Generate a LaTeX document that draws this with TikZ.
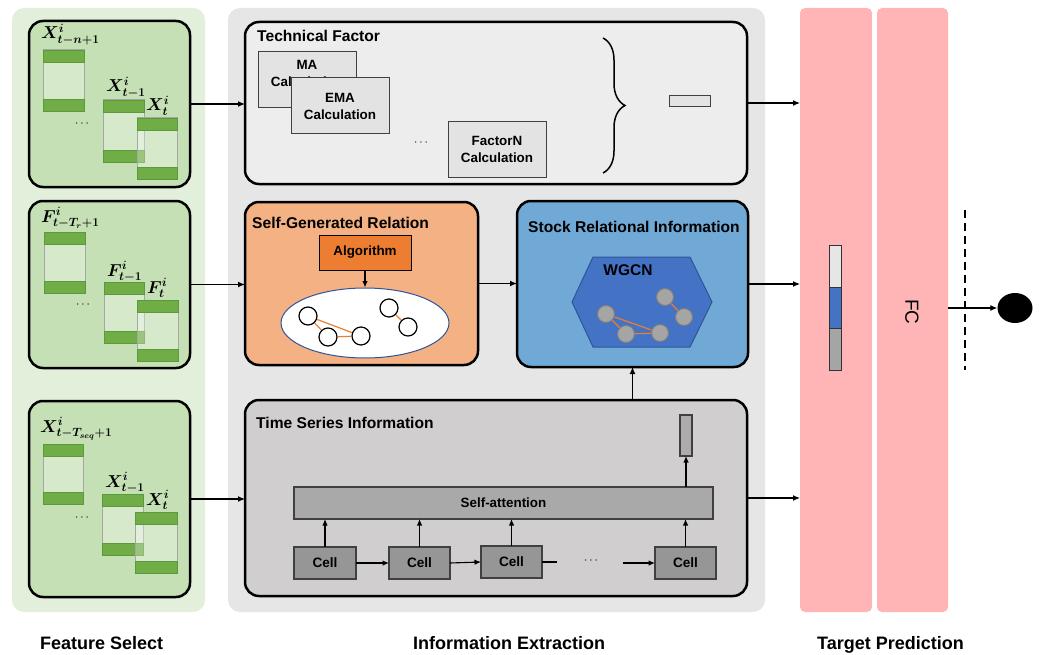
\documentclass[tikz,border=0pt]{standalone}
\usepackage{fontspec}
\setmainfont{Liberation Sans}
\usepackage{amsmath,bm}
\usetikzlibrary{arrows.meta,decorations.pathreplacing,shapes.geometric}
\definecolor{gbg}{HTML}{E2EFDA}
\definecolor{gbox}{HTML}{C5E0B4}
\definecolor{gbar}{HTML}{70AD47}
\definecolor{gbard}{HTML}{5B9A3A}
\definecolor{mbg}{HTML}{E7E6E6}
\definecolor{tfbg}{HTML}{EDEDED}
\definecolor{sgrbg}{HTML}{F4B183}
\definecolor{sribg}{HTML}{70A9D6}
\definecolor{tsibg}{HTML}{D0CECE}
\definecolor{pink}{HTML}{FFB5B5}
\definecolor{orng}{HTML}{ED7D31}
\definecolor{hexb}{HTML}{4472C4}
\definecolor{hexd}{HTML}{2F5597}
\definecolor{gnode}{HTML}{A5A5A5}
\definecolor{gnoded}{HTML}{7F7F7F}
\definecolor{calc}{HTML}{E3E3E3}
\definecolor{dgray}{HTML}{404040}
\definecolor{cellc}{HTML}{969696}
\definecolor{sac}{HTML}{A9A9A9}
\definecolor{outc}{HTML}{AFABAB}
\newcommand\bx[7]{\node[#6, minimum width={(#4)-(#2)}, minimum height={(#5)-(#3)}, inner sep=0pt, outer sep=0pt] (#1) at ({((#2)+(#4))/2},{((#3)+(#5))/2}) {#7};}
\newcommand\stk[5]{%
  \bx{#1}{#2}{#3}{#4}{#5}{stackrect}{}
  \bx{#1t}{#2}{#3}{#4}{(#3)+12}{bar}{}
  \bx{#1b}{#2}{(#5)-12}{#4}{#5}{bar}{}}
\tikzset{
  panel/.style={fill=#1, rounded corners=12pt},
  bigbox/.style={fill=#1, draw=black, line width=2.5pt, rounded corners=14pt},
  stackrect/.style={draw=black!35, line width=1pt, fill=white, fill opacity=0.3},
  bar/.style={fill=gbar, draw=gbard, line width=0.7pt},
  calcbox/.style={fill=calc, draw=dgray, line width=1pt, align=center, font=\fontsize{13.4}{17}\selectfont\bfseries},
  ttl/.style={anchor=base west, inner sep=0pt, font=\fontsize{15.6}{18}\selectfont\bfseries},
  lbl/.style={anchor=base west, inner sep=0pt, font=\fontsize{16.5}{17}\selectfont},
  dots/.style={inner sep=0pt, font=\fontsize{13}{14}\selectfont},
  bottomlbl/.style={anchor=base west, inner sep=0pt, font=\fontsize{18}{20}\selectfont\bfseries},
  arr/.style={line width=1.2pt, -{Latex[length=7pt,width=6pt]}},
  sarr/.style={line width=1.1pt, -{Latex[length=6.5pt,width=5.5pt]}},
  wnode/.style={circle, draw=black, line width=1.2pt, fill=white, minimum size=18pt, inner sep=0pt},
  gnd/.style={circle, draw=gnoded, line width=1pt, fill=gnode, minimum size=17pt, inner sep=0pt},
  oedge/.style={draw=orng, line width=1.2pt},
  cellbox/.style={fill=cellc, draw=dgray, line width=1.2pt, font=\fontsize{13.6}{16}\selectfont\bfseries},
}
\begin{document}
\begin{tikzpicture}[x=1pt,y=-1pt]
\useasboundingbox (0,0) rectangle (1040,655);
% ---------- panels
\bx{gpanel}{12}{8}{205}{612}{panel=gbg}{}
\bx{mpanel}{228}{8}{765}{612}{panel=mbg}{}
\bx{p1}{800}{8}{872}{612}{fill=pink, rounded corners=5pt}{}
\bx{p2}{877}{8}{948}{612}{fill=pink, rounded corners=5pt}{}
% ---------- left boxes
\bx{b1}{29}{21}{190}{187}{bigbox=gbox}{}
\bx{b2}{29}{201}{190}{368}{bigbox=gbox}{}
\bx{b3}{29}{401}{190}{597}{bigbox=gbox}{}
\stk{a1}{43}{50}{84}{111}
\stk{a2}{103}{100}{144}{162}
\stk{a3}{137}{118}{177}{179}
\stk{f1}{44}{232}{85}{293}
\stk{f2}{104}{282}{144}{343}
\stk{f3}{137}{300}{178}{361}
\stk{s1}{43}{444}{83}{504}
\stk{s2}{102}{494}{143}{555}
\stk{s3}{135}{512}{177}{573}
\node[lbl] (la1) at (41,39) {$\bm{X^{i}_{t-n+1}}$};
\node[lbl] (la2) at (106,92) {$\bm{X^{i}_{t-1}}$};
\node[lbl] (la3) at (146,111) {$\bm{X^{i}_{t}}$};
\node[lbl] (lf1) at (41,222) {$\bm{F^{i}_{t-T_r+1}}$};
\node[lbl] (lf2) at (107,276) {$\bm{F^{i}_{t-1}}$};
\node[lbl] (lf3) at (147,293) {$\bm{F^{i}_{t}}$};
\node[lbl] (ls1) at (40,432) {$\bm{X^{i}_{t-T_{seq}+1}}$};
\node[lbl] (ls2) at (105,487) {$\bm{X^{i}_{t-1}}$};
\node[lbl] (ls3) at (146,505) {$\bm{X^{i}_{t}}$};
\node[dots] (da) at (83,124) {$\cdots$};
\node[dots] (df) at (84,305) {$\cdots$};
\node[dots] (ds) at (83,518) {$\cdots$};
% ---------- middle boxes
\bx{tf}{245}{22}{747}{184}{bigbox=tfbg}{}
\bx{sgr}{245}{202}{478}{365}{bigbox=sgrbg}{}
\bx{sri}{517}{201}{748}{367}{bigbox=sribg}{}
\bx{tsi}{245}{400}{747}{596}{bigbox=tsibg}{}
\node[ttl] (ttf) at (257,42) {Technical Factor};
\node[ttl] (tsgr) at (252,228) {Self-Generated Relation};
\node[ttl] (tsri) at (528,232) {Stock Relational Information};
\node[ttl] (ttsi) at (256,428) {Time Series Information};
% technical factor
\bx{ma}{258}{52}{356}{108}{calcbox}{}
\node[calcbox, draw=none, fill=none] (mat) at (307,73) {MA\\Calculation};
\bx{ema}{291}{78}{389}{134}{calcbox}{EMA\\Calculation}
\node[dots] (dtf) at (422,143) {$\cdots$};
\bx{fn}{448}{122}{546}{177}{calcbox}{FactorN\\Calculation}
\draw[line width=1.5pt, decorate, decoration={brace, amplitude=22pt}] (603,38) -- (603,173);
\bx{tfo}{669}{96}{710}{107}{fill=calc, draw=dgray, line width=1pt}{}
% self-generated relation
\bx{alg}{319}{235}{411}{270}{fill=orng, draw=black, line width=1pt, font=\fontsize{13.4}{16}\selectfont\bfseries}{Algorithm}
\node[ellipse, draw=hexd, line width=1pt, fill=white, minimum width=168pt, minimum height=70pt, inner sep=0pt] (ell) at (365,323) {};
\draw[sarr] (alg.south) -- (ell.north);
\node[wnode] (w1) at (308,316) {};
\node[wnode] (w2) at (328,337) {};
\node[wnode] (w3) at (361,336) {};
\node[wnode] (w4) at (389,308) {};
\node[wnode] (w5) at (408,327) {};
\draw[oedge] (w1) -- (w2) (w2) -- (w3) (w1) -- (w3) (w4) -- (w5);
% stock relational information
\draw[fill=hexb, draw=hexd, line width=1pt] (593,257) -- (690,257) -- (712,302) -- (690,347) -- (593,347) -- (572,302) -- cycle;
\node[anchor=center, font=\fontsize{15.5}{18}\selectfont\bfseries] (wgcn) at (628,270) {WGCN};
\node[gnd] (g1) at (606,314) {};
\node[gnd] (g2) at (626,334) {};
\node[gnd] (g3) at (660,333) {};
\node[gnd] (g4) at (665,297) {};
\node[gnd] (g5) at (684,317) {};
\draw[oedge] (g1) -- (g2) (g2) -- (g3) (g1) -- (g3) (g4) -- (g5);
% time series
\bx{sa}{294}{487}{713}{519}{fill=sac, draw=dgray, line width=1.2pt, font=\fontsize{13.4}{16}\selectfont\bfseries}{Self-attention}
\bx{c1}{294}{547}{356}{579}{cellbox}{Cell}
\bx{c2}{389}{547}{450}{579}{cellbox}{Cell}
\bx{c3}{481}{546}{542}{578}{cellbox}{Cell}
\bx{c4}{655}{547}{716}{579}{cellbox}{Cell}
\bx{tso}{680}{415}{692}{456}{fill=outc, draw=dgray, line width=1.2pt}{}
\coordinate (c3e) at (557,562);
\coordinate (c4s) at (623,563);
\node[dots] (dts) at (592,561) {$\cdots$};
\draw[sarr] (c1.east) -- (c2.west);
\draw[sarr] (c2.east) -- (c3.west);
\draw[line width=1.1pt] (c3.east) -- (c3e);
\draw[sarr] (c4s) -- (c4.west);
\foreach \c in {c1,c2,c3,c4} \draw[sarr] (\c.north) -- (\c.north |- sa.south);
\draw[sarr] (sa.north -| tso.south) -- (tso.south);
% ---------- connectors
\draw[arr] (b1.east) -- (tf.west |- b1.east);
\draw[arr] (b2.east) -- (sgr.west |- b2.east);
\draw[arr] (b3.east) -- (tsi.west |- b3.east);
\draw[arr] (sgr.east) -- (sri.west |- sgr.east);
\draw[arr] (tf.east) -- (p1.west |- tf.east);
\draw[arr] (sri.east) -- (p1.west |- sri.east);
\draw[arr] (tsi.east) -- (p1.west |- tsi.east);
\draw[arr] (sri.south |- tsi.north) -- (sri.south);
% ---------- target prediction
\bx{v1}{829}{245}{841}{287}{fill=mbg, draw=black!80, line width=1pt}{}
\bx{v2}{829}{287}{841}{328}{fill=hexb, draw=black!80, line width=1pt}{}
\bx{v3}{829}{328}{841}{370}{fill=gnode, draw=black!80, line width=1pt}{}
\node[rotate=-90, font=\fontsize{19}{20}\selectfont] (fc) at (912,312) {FC};
\node[ellipse, fill=black, minimum width=35pt, minimum height=30pt, inner sep=0pt] (out) at (1015,308) {};
\coordinate (dd1) at (965,210);
\coordinate (dd2) at (965,370);
\draw[line width=1.3pt, dash pattern=on 8pt off 5pt] (dd1) -- (dd2);
\draw[arr] (p2.east |- out.west) -- (out.west);
% ---------- bottom labels
\node[bottomlbl] (l1) at (40,649) {Feature Select};
\node[bottomlbl] (l2) at (413,649) {Information Extraction};
\node[bottomlbl] (l3) at (817,649) {Target Prediction};
\end{tikzpicture}
\end{document}
